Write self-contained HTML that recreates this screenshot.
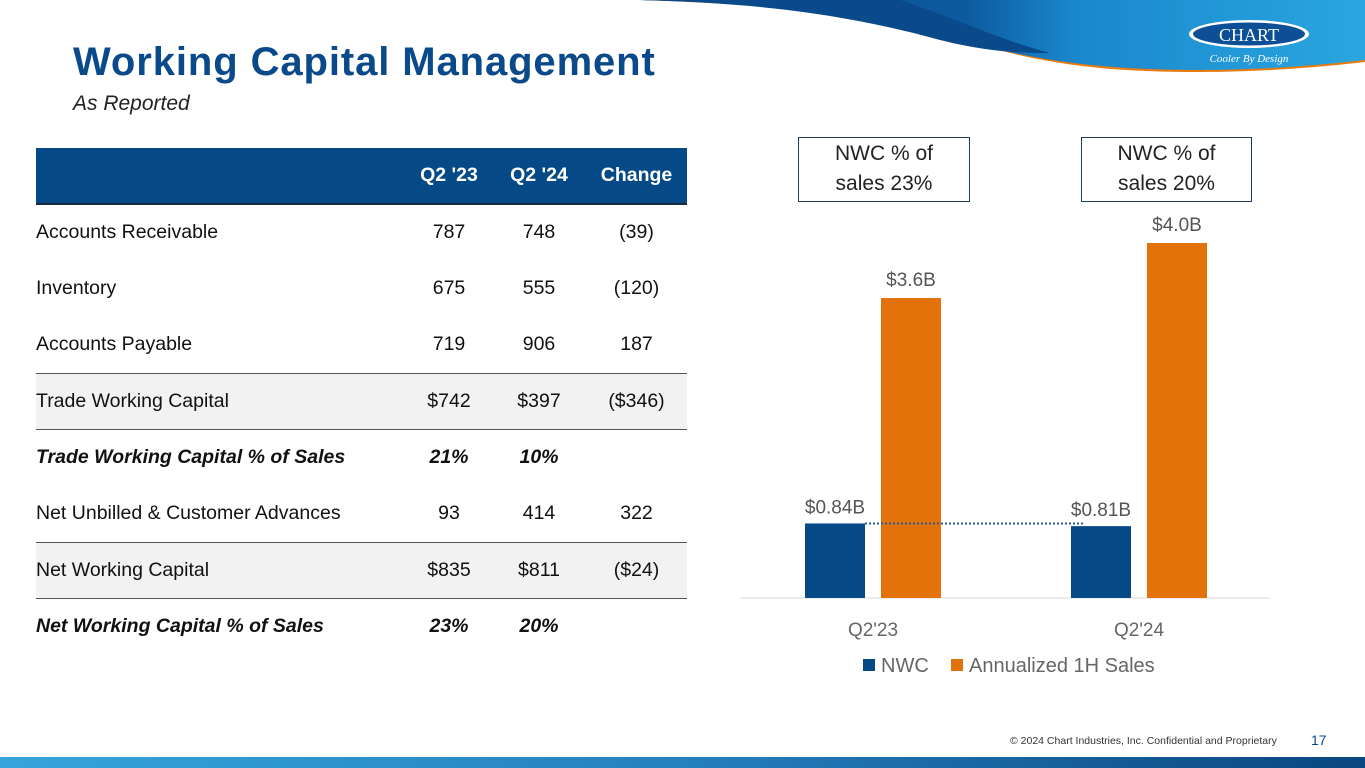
<!DOCTYPE html>
<html><head><meta charset="utf-8">
<style>
*{margin:0;padding:0;box-sizing:border-box}
body{width:1365px;height:768px;overflow:hidden;background:#fff;font-family:"Liberation Sans",sans-serif;position:relative}
.abs{position:absolute}
h1{position:absolute;left:73px;top:40px;font-size:40px;color:#0a4a8a;font-weight:bold;letter-spacing:0.9px}
.sub{left:73px;top:92px;font-size:21px;font-style:italic;color:#222}
table{position:absolute;left:36px;top:148px;width:651px;border-collapse:collapse;font-size:19.5px;color:#111}
td,th{height:56.3px;padding:0}
th{background:#054a86;color:#fff;font-weight:bold;border-bottom:2px solid #1b2b40}
td.n,th.n{text-align:center}
tr.g td{background:#f2f2f2;border-top:1px solid #555;border-bottom:1px solid #555}
tr.b td{font-weight:bold;font-style:italic}
.box{border:1.5px solid #1b3a5c;background:#fff;text-align:center;font-size:21px;color:#222;line-height:30px;padding-top:1px}
</style></head><body>
<svg class="abs" style="left:0;top:0" width="1365" height="80">
<defs><linearGradient id="sw" x1="0" x2="1"><stop offset="0" stop-color="#0a4a8a"/><stop offset="0.45" stop-color="#0d5aa0"/><stop offset="0.6" stop-color="#1a88cc"/><stop offset="1" stop-color="#2aa6e0"/></linearGradient></defs>
<path d="M640 0 C800 5 900 20 980 45 C1050 65 1110 72 1200 72 C1270 72 1330 66 1365 62 L1365 0 Z" fill="#e87b0f"/>
<path d="M640 0 C790 4 890 18 960 40 C1040 62 1110 70 1200 70 C1270 70 1330 64 1365 60 L1365 0 Z" fill="url(#sw)"/>
<path d="M640 0 C760 3 850 15 940 40 C980 50 1010 53 1050 53 C1000 40 960 20 900 0Z" fill="#0a4a8a"/>
<ellipse cx="1249" cy="34" rx="60" ry="14" fill="#fff"/>
<ellipse cx="1249" cy="34" rx="56" ry="11.5" fill="#0d4f96"/>
<text x="1249" y="41" font-family="Liberation Serif" font-size="18" fill="#fff" text-anchor="middle">CHART</text>
<text x="1249" y="62" font-family="Liberation Serif" font-style="italic" font-size="11" fill="#fff" text-anchor="middle">Cooler By Design</text>
</svg>
<h1>Working Capital Management</h1>
<div class="abs sub">As Reported</div>
<table>
<tr><th style="width:370px"></th><th class="n" style="width:86px">Q2 '23</th><th class="n" style="width:94px">Q2 '24</th><th class="n">Change</th></tr>
<tr><td>Accounts Receivable</td><td class="n">787</td><td class="n">748</td><td class="n">(39)</td></tr>
<tr><td>Inventory</td><td class="n">675</td><td class="n">555</td><td class="n">(120)</td></tr>
<tr><td>Accounts Payable</td><td class="n">719</td><td class="n">906</td><td class="n">187</td></tr>
<tr class="g"><td>Trade Working Capital</td><td class="n">$742</td><td class="n">$397</td><td class="n">($346)</td></tr>
<tr class="b"><td>Trade Working Capital % of Sales</td><td class="n">21%</td><td class="n">10%</td><td class="n"></td></tr>
<tr><td>Net Unbilled &amp; Customer Advances</td><td class="n">93</td><td class="n">414</td><td class="n">322</td></tr>
<tr class="g"><td>Net Working Capital</td><td class="n">$835</td><td class="n">$811</td><td class="n">($24)</td></tr>
<tr class="b"><td>Net Working Capital % of Sales</td><td class="n">23%</td><td class="n">20%</td><td class="n"></td></tr>
</table>
<div class="abs box" style="left:798px;top:137px;width:172px;height:65px">NWC % of<br>sales 23%</div>
<div class="abs box" style="left:1081px;top:137px;width:171px;height:65px">NWC % of<br>sales 20%</div>
<svg id="chart" class="abs" style="left:0;top:0" width="1365" height="768"></svg>
<div class="abs" style="left:1010px;top:735px;font-size:10.5px;color:#333">© 2024 Chart Industries, Inc. Confidential and Proprietary</div>
<div class="abs" style="left:1311px;top:732px;font-size:14px;color:#0a4a8a">17</div>
<div class="abs" style="left:0;top:757px;width:1365px;height:11px;background:linear-gradient(90deg,#35a5dc,#2580bd 50%,#0a4680)"></div>
<script>
const categories=["Q2'23","Q2'24"];
const nwcValues=[0.84,0.81];
const salesValues=[3.38,4.0];
const nwcLabels=["$0.84B","$0.81B"];
const salesLabels=["$3.6B","$4.0B"];
const seriesNames=["NWC","Annualized 1H Sales"];
const svg=document.getElementById('chart');
const NS='http://www.w3.org/2000/svg';
const base=598,scale=88.75;
const y=v=>base-v*scale;
const cx=i=>873+i*266;
function mk(t,a){const e=document.createElementNS(NS,t);for(const k in a)e.setAttribute(k,a[k]);svg.appendChild(e);return e;}
const ax=mk('line',{x1:740,x2:1270,y1:base,y2:base,stroke:'#d9d9d9','stroke-width':1});


categories.forEach((c,i)=>{
  const b1=mk('rect',{x:cx(i)-68,y:y(nwcValues[i]),width:60,height:base-y(nwcValues[i]),fill:'#054a86'});
  
  
  const b2=mk('rect',{x:cx(i)+8,y:y(salesValues[i]),width:60,height:base-y(salesValues[i]),fill:'#e4720a'});
  
  
  const l1=mk('text',{x:cx(i)-38,y:y(nwcValues[i])-10,'text-anchor':'middle','font-size':19,fill:'#555'});l1.textContent=nwcLabels[i];
  
  
  const l2=mk('text',{x:cx(i)+38,y:y(salesValues[i])-12,'text-anchor':'middle','font-size':19,fill:'#555'});l2.textContent=salesLabels[i];
  
  
  const t=mk('text',{x:cx(i),y:636,'text-anchor':'middle','font-size':19,fill:'#666'});t.textContent=c;
  
  
});
const dl=mk('line',{x1:cx(0)-8,x2:cx(1)-54,y1:y(nwcValues[0]),y2:y(nwcValues[0]),stroke:'#2a5c96','stroke-width':2,'stroke-dasharray':'2,2'});


const cols=['#054a86','#e4720a'];const lx=[863,951];
seriesNames.forEach((n,i)=>{
  const r=mk('rect',{x:lx[i],y:659,width:12,height:12,fill:cols[i]});
  
  
  const t=mk('text',{x:lx[i]+18,y:672,'font-size':20,fill:'#666'});t.textContent=n;
  
  
});
</script>
</body></html>
